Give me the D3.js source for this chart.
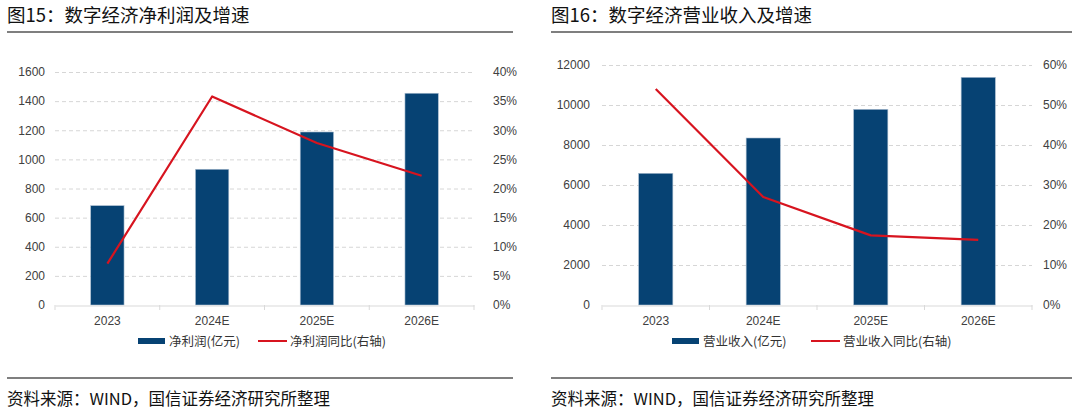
<!DOCTYPE html>
<html>
<head>
<meta charset="utf-8">
<script src="https://cdn.jsdelivr.net/npm/d3@7/dist/d3.min.js"></script>
<style>
  html, body { margin: 0; padding: 0; background: #fff; }
  svg { display: block; }
  .tick text { font-family: "Liberation Sans", Arial, sans-serif; font-size: 12px; fill: #404040; }
</style>
</head>
<body>
<svg id="chart" width="1080" height="411"></svg>
<script>
// ---------- data ----------
const categories = ["2023", "2024E", "2025E", "2026E"];

const profitValues = [682, 932, 1188, 1454];        // 净利润(亿元)
const profitGrowth = [0.071, 0.358, 0.278, 0.222];   // 净利润同比(右轴)
const profitTicks = [0, 200, 400, 600, 800, 1000, 1200, 1400, 1600];
const profitPctTicks = [0, 0.05, 0.10, 0.15, 0.20, 0.25, 0.30, 0.35, 0.40];

const revenueValues = [6585, 8350, 9783, 11383];     // 营业收入(亿元)
const revenueGrowth = [0.54, 0.27, 0.174, 0.163];    // 营业收入同比(右轴)
const revenueTicks = [0, 2000, 4000, 6000, 8000, 10000, 12000];
const revenuePctTicks = [0, 0.10, 0.20, 0.30, 0.40, 0.50, 0.60];

const titles = ["图15：数字经济净利润及增速", "图16：数字经济营业收入及增速"];
const barLegend = ["净利润(亿元)", "营业收入(亿元)"];
const lineLegend = ["净利润同比(右轴)", "营业收入同比(右轴)"];
const sourceText = "资料来源：WIND，国信证券经济研究所整理";

// ---------- styles ----------
const BAR = "#064273";
const RED = "#d7141f";
const GRID = "#d6d6d6";
const CJK = "'Noto Sans CJK SC', 'Noto Sans', sans-serif";

const svg = d3.select("#chart");

function panel(cfg) {
  const g = svg.append("g");

  // title + rules
  g.append("text").attr("x", cfg.titleX).attr("y", 22)
    .attr("font-family", CJK).attr("font-size", 18.5).attr("fill", "#111")
    .text(cfg.title);
  g.append("line").attr("x1", cfg.ruleX1).attr("x2", cfg.ruleX2)
    .attr("y1", 32).attr("y2", 32).attr("stroke", "#555").attr("stroke-width", 1.5);
  g.append("line").attr("x1", cfg.ruleX1).attr("x2", cfg.ruleX2)
    .attr("y1", 378).attr("y2", 378).attr("stroke", "#555").attr("stroke-width", 1.5);
  g.append("text").attr("x", cfg.titleX).attr("y", 405)
    .attr("font-family", CJK).attr("font-size", 16.5).attr("fill", "#111")
    .text(sourceText);

  const x = d3.scaleBand().domain(categories).range([cfg.x0, cfg.x1]).padding(0);
  const y = d3.scaleLinear().domain([0, cfg.yMax]).range([305, cfg.yTop]);
  const y2 = d3.scaleLinear().domain([0, cfg.pctMax]).range([305, cfg.yTop]);

  // gridlines
  g.append("g").selectAll("line").data(cfg.ticks.filter(d => d > 0)).join("line")
    .attr("x1", cfg.x0).attr("x2", cfg.x1)
    .attr("y1", d => y(d) + 0.5).attr("y2", d => y(d) + 0.5)
    .attr("stroke", GRID).attr("stroke-width", 1).attr("stroke-dasharray", "4,3");

  // bars
  const bw = x.bandwidth() * 0.318;
  g.append("g").selectAll("rect").data(cfg.values).join("rect")
    .attr("x", (d, i) => x(categories[i]) + x.bandwidth() / 2 - bw / 2)
    .attr("width", bw)
    .attr("y", d => y(d))
    .attr("height", d => 305 - y(d))
    .attr("fill", BAR)
    .attr("stroke", "#a8bbcf").attr("stroke-width", 0.6);

  // x axis
  const xAxis = g.append("g").attr("transform", "translate(0,305.5)")
    .call(d3.axisBottom(x).tickSize(0).tickPadding(11));
  xAxis.select(".domain").attr("stroke", "#d9d9d9").attr("stroke-width", 1.2);
  xAxis.selectAll(".tick text").attr("font-size", 12.3);
  // category boundary ticks
  const bounds = categories.map(c => x(c)).concat([cfg.x1]);
  g.append("g").selectAll("line").data(bounds).join("line")
    .attr("x1", d => d).attr("x2", d => d).attr("y1", 305).attr("y2", 310)
    .attr("stroke", "#d9d9d9").attr("stroke-width", 1);

  // left axis
  const yl = g.append("g").attr("transform", `translate(${cfg.leftLabelX},0)`)
    .call(d3.axisLeft(y).tickValues(cfg.ticks).tickSize(0).tickPadding(0).tickFormat(d3.format("d")));
  yl.select(".domain").remove();

  // right axis
  const yr = g.append("g").attr("transform", `translate(${cfg.rightLabelX},0)`)
    .call(d3.axisRight(y2).tickValues(cfg.pctTicks).tickSize(0).tickPadding(0).tickFormat(d3.format(".0%")));
  yr.select(".domain").remove();

  // growth line
  const line = d3.line()
    .x((d, i) => x(categories[i]) + x.bandwidth() / 2)
    .y(d => y2(d));
  g.append("path").datum(cfg.growth).attr("d", line)
    .attr("fill", "none").attr("stroke", RED).attr("stroke-width", 2.2)
    .attr("stroke-linejoin", "round");

  // legend
  const lg = g.append("g");
  lg.append("rect").attr("x", cfg.legRect).attr("y", 338).attr("width", 27).attr("height", 6).attr("fill", BAR);
  lg.append("text").attr("x", cfg.legRect + 31).attr("y", 345.5)
    .attr("font-family", CJK).attr("font-size", 12.5).attr("fill", "#333").text(cfg.barLabel);
  lg.append("line").attr("x1", cfg.legLine).attr("x2", cfg.legLine + 29).attr("y1", 341).attr("y2", 341)
    .attr("stroke", RED).attr("stroke-width", 2);
  lg.append("text").attr("x", cfg.legLine + 32).attr("y", 345.5)
    .attr("font-family", CJK).attr("font-size", 12.5).attr("fill", "#333").text(cfg.lineLabel);
}

panel({
  title: titles[0], titleX: 7, ruleX1: 7, ruleX2: 513,
  x0: 55, x1: 474, yTop: 72, yMax: 1600, pctMax: 0.40,
  ticks: profitTicks, pctTicks: profitPctTicks,
  values: profitValues, growth: profitGrowth,
  leftLabelX: 45, rightLabelX: 493,
  legRect: 138, legLine: 258,
  barLabel: barLegend[0], lineLabel: lineLegend[0]
});

panel({
  title: titles[1], titleX: 551, ruleX1: 551, ruleX2: 1072,
  x0: 602, x1: 1032, yTop: 65, yMax: 12000, pctMax: 0.60,
  ticks: revenueTicks, pctTicks: revenuePctTicks,
  values: revenueValues, growth: revenueGrowth,
  leftLabelX: 590, rightLabelX: 1043,
  legRect: 672, legLine: 811,
  barLabel: barLegend[1], lineLabel: lineLegend[1]
});
</script>
</body>
</html>
